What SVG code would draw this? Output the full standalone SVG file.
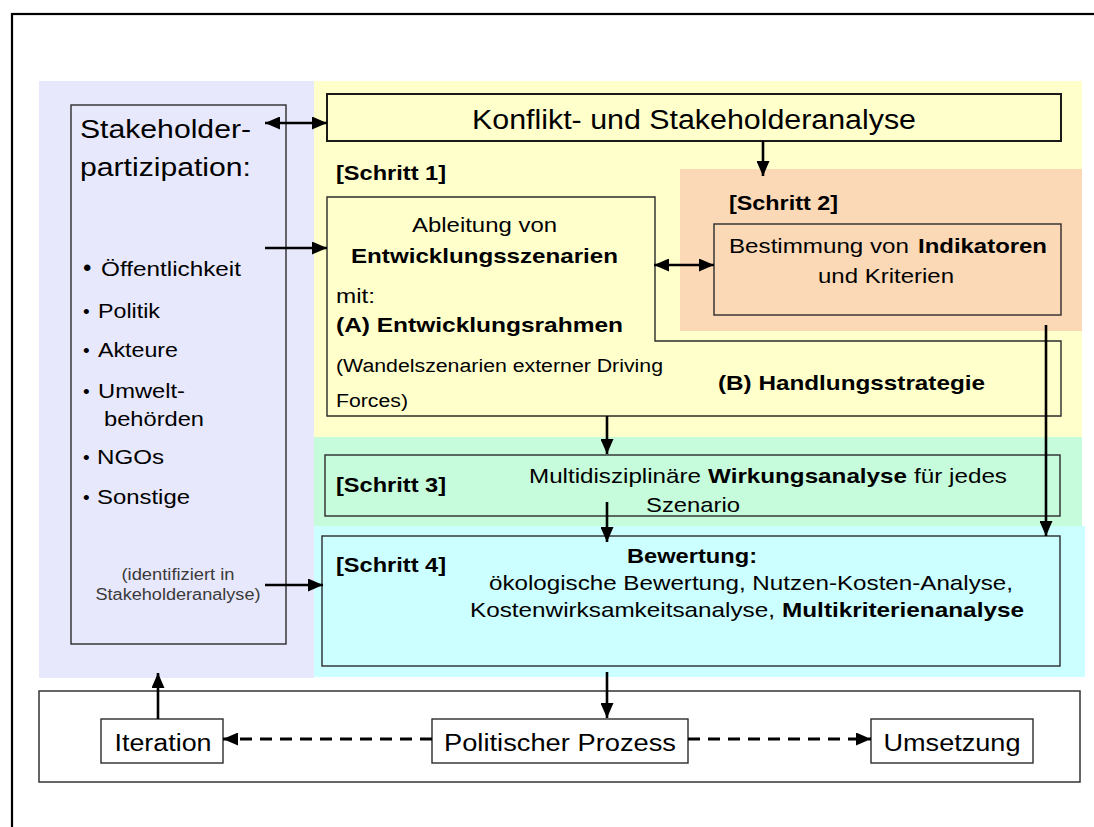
<svg xmlns="http://www.w3.org/2000/svg" width="1094" height="827" viewBox="0 0 1094 827">
<defs>
<style>
text{font-family:"Liberation Sans",Arial,sans-serif;fill:#000}
.b{font-weight:bold}
.box{stroke:#2b2b2b;stroke-width:1.4}
.wire{stroke:#000;stroke-width:2.6;fill:none}
.dash{stroke-dasharray:12 8;stroke-width:3}
.m{text-anchor:middle}
</style>
<marker id="ah" viewBox="0 0 15 13" refX="15" refY="6.5" markerWidth="15" markerHeight="13" markerUnits="userSpaceOnUse" orient="auto-start-reverse">
<path d="M0,0 L15,6.5 L0,13 z" fill="#000"/>
</marker>
</defs>
<rect x="0" y="0" width="1094" height="827" fill="#fff"/>
<rect x="12" y="14" width="1100" height="830" fill="none" stroke="#000" stroke-width="2.2"/>

<!-- background panels -->
<rect x="39" y="81" width="275" height="597" fill="#E8E8FC"/>
<rect x="314" y="81" width="768" height="357" fill="#FFFFCC"/>
<rect x="680" y="169" width="402" height="162" fill="#FCD9B6"/>
<rect x="314" y="437" width="768" height="89" fill="#C6FCDC"/>
<rect x="314" y="526" width="771" height="151" fill="#CCFFFF"/>

<g id="stakeholder">
<rect class="box" x="71" y="105" width="215" height="539" fill="#E8E8FC"/>
<text x="80" y="138" font-size="26" textLength="171" lengthAdjust="spacingAndGlyphs">Stakeholder-</text>
<text x="80" y="176" font-size="26" textLength="171" lengthAdjust="spacingAndGlyphs">partizipation:</text>
<text x="83" y="276" font-size="24">•</text>
<text x="101" y="276" font-size="21" textLength="140" lengthAdjust="spacingAndGlyphs">Öffentlichkeit</text>
<text x="83" y="318" font-size="19">•</text>
<text x="98" y="318" font-size="21" textLength="62" lengthAdjust="spacingAndGlyphs">Politik</text>
<text x="83" y="357" font-size="19">•</text>
<text x="98" y="357" font-size="21" textLength="80" lengthAdjust="spacingAndGlyphs">Akteure</text>
<text x="83" y="398" font-size="19">•</text>
<text x="98" y="398" font-size="21" textLength="87" lengthAdjust="spacingAndGlyphs">Umwelt-</text>
<text x="104" y="426" font-size="21" textLength="100" lengthAdjust="spacingAndGlyphs">behörden</text>
<text x="83" y="464" font-size="19">•</text>
<text x="97" y="464" font-size="21" textLength="67" lengthAdjust="spacingAndGlyphs">NGOs</text>
<text x="83" y="504" font-size="19">•</text>
<text x="97" y="504" font-size="21" textLength="93" lengthAdjust="spacingAndGlyphs">Sonstige</text>
<text class="m" x="178" y="580" font-size="16" style="fill:#3a3a3a" textLength="113" lengthAdjust="spacingAndGlyphs">(identifiziert in</text>
<text class="m" x="178" y="600" font-size="16" style="fill:#3a3a3a" textLength="165" lengthAdjust="spacingAndGlyphs">Stakeholderanalyse)</text>
</g>

<g id="konflikt">
<rect x="327" y="94" width="734" height="47" fill="#FFFFCC" stroke="#1a1a1a" stroke-width="2"/>
<text class="m" x="694" y="129" font-size="27" textLength="444" lengthAdjust="spacingAndGlyphs">Konflikt- und Stakeholderanalyse</text>
</g>

<g id="schritt1">
<text class="b" x="336" y="180" font-size="20" textLength="110" lengthAdjust="spacingAndGlyphs">[Schritt 1]</text>
<path class="box" d="M327,197 H655 V341 H1061 V416 H327 Z" fill="#FFFFCC"/>
<text x="412" y="232" font-size="21" textLength="145" lengthAdjust="spacingAndGlyphs">Ableitung von</text>
<text class="b" x="351" y="263" font-size="20.5" textLength="267" lengthAdjust="spacingAndGlyphs">Entwicklungsszenarien</text>
<text x="336" y="303" font-size="21" textLength="39" lengthAdjust="spacingAndGlyphs">mit:</text>
<text class="b" x="336" y="332" font-size="20.5" textLength="287" lengthAdjust="spacingAndGlyphs">(A) Entwicklungsrahmen</text>
<text x="336" y="372" font-size="18" textLength="327" lengthAdjust="spacingAndGlyphs">(Wandelszenarien externer Driving</text>
<text x="336" y="407" font-size="18" textLength="72" lengthAdjust="spacingAndGlyphs">Forces)</text>
<text class="b" x="718" y="390" font-size="20.5" textLength="267" lengthAdjust="spacingAndGlyphs">(B) Handlungsstrategie</text>
</g>

<g id="schritt2">
<text class="b" x="729" y="210" font-size="20" textLength="109" lengthAdjust="spacingAndGlyphs">[Schritt 2]</text>
<rect class="box" x="714" y="224" width="347" height="91" fill="#FCD9B6"/>
<text x="729" y="253" font-size="21" textLength="180" lengthAdjust="spacingAndGlyphs">Bestimmung von</text>
<text class="b" x="918" y="253" font-size="21" textLength="129" lengthAdjust="spacingAndGlyphs">Indikatoren</text>
<text x="818" y="283" font-size="21" textLength="136" lengthAdjust="spacingAndGlyphs">und Kriterien</text>
</g>

<g id="schritt3">
<rect class="box" x="325" y="455" width="735" height="61" fill="#C6FCDC"/>
<text class="b" x="336" y="492" font-size="20" textLength="110" lengthAdjust="spacingAndGlyphs">[Schritt 3]</text>
<text x="529" y="483" font-size="21" textLength="172" lengthAdjust="spacingAndGlyphs">Multidisziplinäre</text>
<text class="b" x="708" y="483" font-size="21" textLength="199" lengthAdjust="spacingAndGlyphs">Wirkungsanalyse</text>
<text x="914" y="483" font-size="21" textLength="93" lengthAdjust="spacingAndGlyphs">für jedes</text>
<text x="646" y="512" font-size="21" textLength="94" lengthAdjust="spacingAndGlyphs">Szenario</text>
</g>

<g id="schritt4">
<rect class="box" x="322" y="536" width="738" height="130" fill="#CCFFFF"/>
<text class="b" x="336" y="572" font-size="20" textLength="110" lengthAdjust="spacingAndGlyphs">[Schritt 4]</text>
<text class="b" x="627" y="563" font-size="21" textLength="130" lengthAdjust="spacingAndGlyphs">Bewertung:</text>
<text x="489" y="590" font-size="21" textLength="524" lengthAdjust="spacingAndGlyphs">ökologische Bewertung, Nutzen-Kosten-Analyse,</text>
<text x="470" y="617" font-size="21" textLength="305" lengthAdjust="spacingAndGlyphs">Kostenwirksamkeitsanalyse,</text>
<text class="b" x="782" y="617" font-size="21" textLength="242" lengthAdjust="spacingAndGlyphs">Multikriterienanalyse</text>
</g>

<g id="prozess-rahmen">
<rect x="39" y="691" width="1041" height="91" fill="#fff" stroke="#333" stroke-width="1.5"/>
</g>
<g id="iteration">
<rect class="box" x="101" y="719" width="122" height="44" fill="#fff"/>
<text class="m" x="163" y="751" font-size="23.5" textLength="97" lengthAdjust="spacingAndGlyphs">Iteration</text>
</g>
<g id="politischer-prozess">
<rect class="box" x="432" y="719" width="256" height="44" fill="#fff"/>
<text class="m" x="560" y="751" font-size="23.5" textLength="232" lengthAdjust="spacingAndGlyphs">Politischer Prozess</text>
</g>
<g id="umsetzung">
<rect class="box" x="871" y="719" width="162" height="44" fill="#fff"/>
<text class="m" x="952" y="751" font-size="23.5" textLength="137" lengthAdjust="spacingAndGlyphs">Umsetzung</text>
</g>

<g id="connectors">
<path class="wire" d="M265,123 H327" marker-start="url(#ah)" marker-end="url(#ah)"/>
<path class="wire" d="M265,248 H327" marker-end="url(#ah)"/>
<path class="wire" d="M763,141 V176" marker-end="url(#ah)"/>
<path class="wire" d="M654,265 H714" marker-start="url(#ah)" marker-end="url(#ah)"/>
<path class="wire" d="M607,416 V454" marker-end="url(#ah)"/>
<path class="wire" d="M607,502 V542" marker-end="url(#ah)"/>
<path class="wire" d="M1046,325 V536" marker-end="url(#ah)"/>
<path class="wire" d="M265,585 H323" marker-end="url(#ah)"/>
<path class="wire" d="M607,672 V718" marker-end="url(#ah)"/>
<path class="wire" d="M158,719 V673" marker-end="url(#ah)"/>
<path class="wire dash" d="M432,739 H223" marker-end="url(#ah)"/>
<path class="wire dash" d="M688,739 H871" marker-end="url(#ah)"/>
</g>
</svg>
